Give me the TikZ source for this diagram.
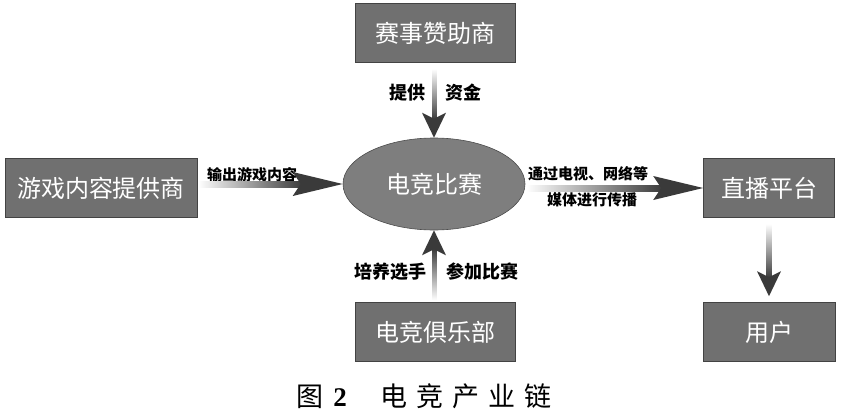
\documentclass[tikz,border=0pt]{standalone}
\usepackage{fontspec}
\usepackage{tikz}
\usetikzlibrary{shapes.geometric,calc}
\newfontfamily\cjk{Noto Sans CJK SC}
\newfontfamily\numfont{Liberation Serif}
\definecolor{boxgray}{RGB}{112,112,112}
\definecolor{ovalgray}{RGB}{126,126,126}
\definecolor{arrowgray}{RGB}{58,58,58}
\tikzset{
  box/.style={fill=boxgray,draw=boxgray!60!black,line width=.6pt,text=white,
    minimum height=59pt,inner sep=0pt,font=\cjk\fontsize{24}{24}\selectfont},
  oval/.style={ellipse,fill=ovalgray,draw=ovalgray!60!black,line width=.6pt,text=white,
    minimum width=182pt,minimum height=92pt,inner sep=0pt,font=\cjk\fontsize{24}{24}\selectfont},
  lbl/.style={inner sep=0pt,font=\cjk\bfseries\fontsize{15}{15}\selectfont},
  vlbl/.style={inner sep=0pt,font=\cjk\bfseries\fontsize{18}{18}\selectfont}
}
\begin{document}
\begin{tikzpicture}
[x=1pt,y=-1pt]
\useasboundingbox (0,0) rectangle (844,415);
\node[oval] (match) at (434,184) {电竞比赛};
\node[box,minimum width=192pt] (game) at (101,188) {游戏内容提供商};
\node[box,minimum width=160pt] (sponsor) at (435,33) {赛事赞助商};
\node[box,minimum width=131pt] (live) at (769,188) {直播平台};
\node[box,minimum width=132pt] (user) at (769,332) {用户};
\node[box,minimum width=160pt] (club) at (435,332) {电竞俱乐部};

\node[lbl] (l1) at (252,175) {输出游戏内容};
\node[lbl] (l2) at (588,174) {通过电视、网络等};
\node[lbl] (l3) at (592,200) {媒体进行传播};
\node[vlbl] (l4) at (407,93) {提供};
\node[vlbl] (l5) at (463,93) {资金};
\node[vlbl] (l6) at (390,272) {培养选手};
\node[vlbl] (l7) at (482,272) {参加比赛};

\node[inner sep=0pt,font=\cjk\fontsize{27}{27}\selectfont] (cap) at (424,396)
  {图\hspace{10pt}{\numfont\bfseries 2}\hspace{34pt}电\hspace{9pt}竞\hspace{9pt}产\hspace{9pt}业\hspace{9pt}链};

% horizontal arrows
\foreach \from/\to in {game/match,match/live}
  {
  \shade[left color=white,right color=arrowgray] ($(\from.east |- \to.west)+(1,-3)$) rectangle ($(\to.west)+(-40,3)$);
  \fill[arrowgray] ($(\to.west)+(-50,-12)$) -- (\to.west) -- ($(\to.west)+(-50,12)$) -- ($(\to.west)+(-42,0)$) -- cycle;
  }
% downward arrows
\foreach \from/\to/\gap in {sponsor/match/0,live/user/6}
  {
  \shade[top color=white,bottom color=arrowgray] ($(\from.south)+(-2.5,6)$) rectangle ($(\to.north)+(2.5,-18-\gap)$);
  \fill[arrowgray] ($(\to.north)+(-12,-25-\gap)$) -- ($(\to.north)+(0,-\gap)$) -- ($(\to.north)+(12,-25-\gap)$) -- ($(\to.north)+(0,-19-\gap)$) -- cycle;
  }
% upward arrow
\shade[bottom color=white,top color=arrowgray] ($(club.north)+(-2.5,-2)$) rectangle ($(match.south)+(2.5,18)$);
\fill[arrowgray] ($(match.south)+(-12,25)$) -- (match.south) -- ($(match.south)+(12,25)$) -- ($(match.south)+(0,19)$) -- cycle;
\end{tikzpicture}
\end{document}
